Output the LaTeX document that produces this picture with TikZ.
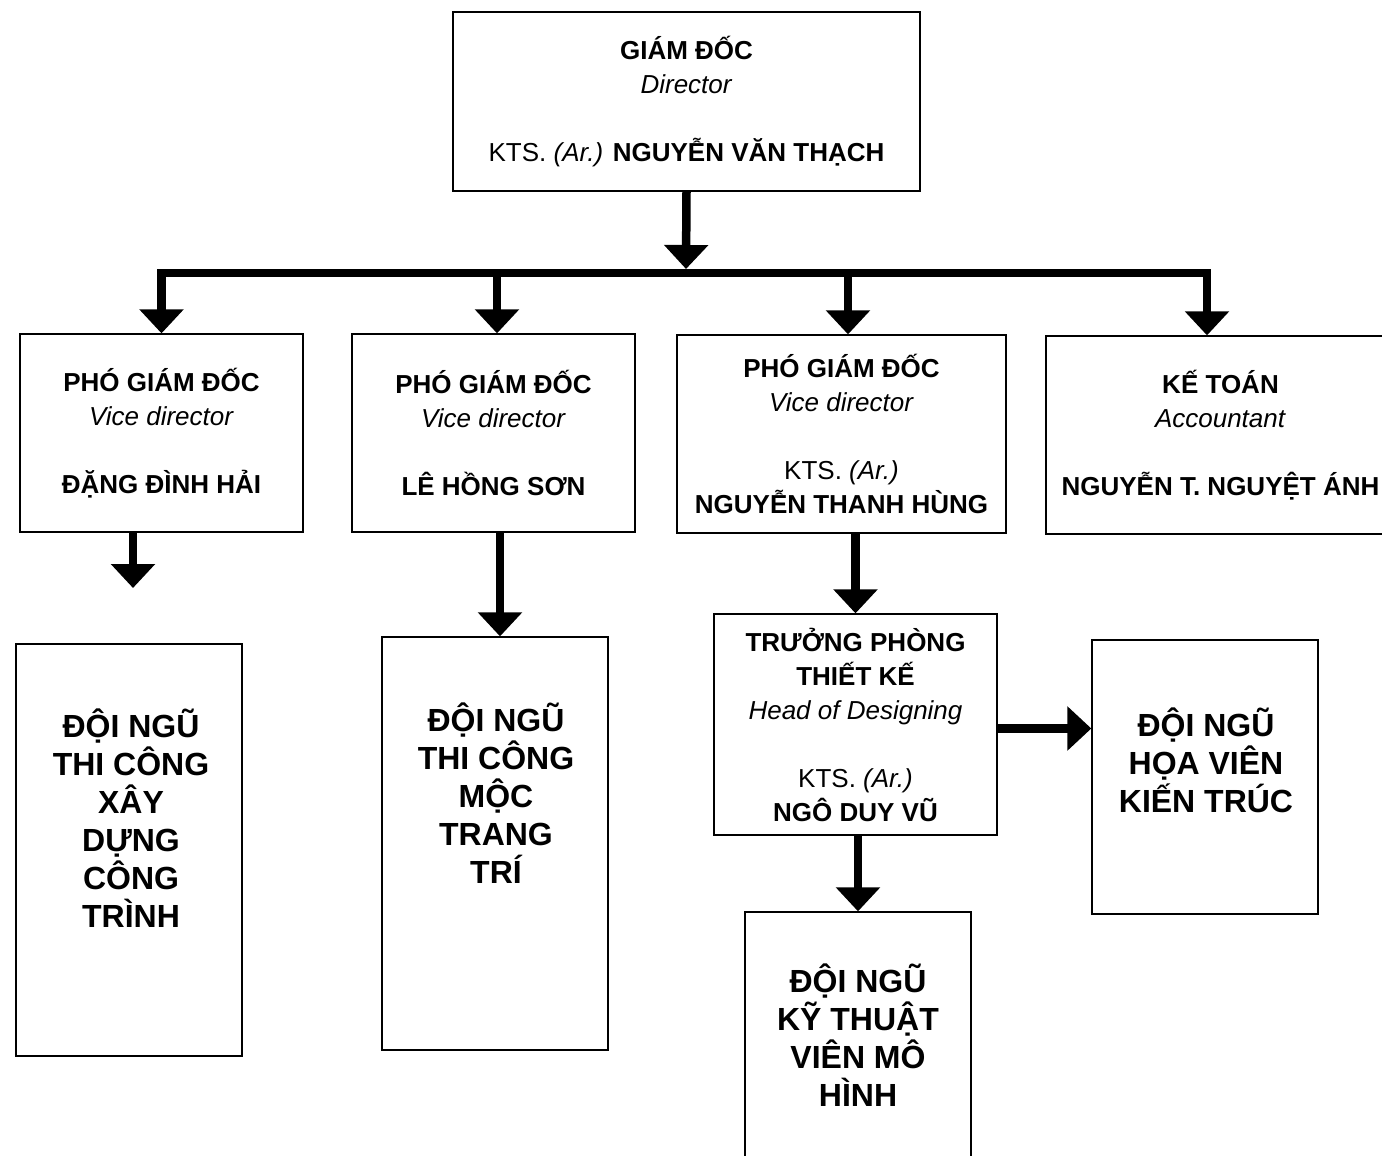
\documentclass[tikz,border=0pt]{standalone}
\usepackage{fontspec}
\setmainfont{Liberation Sans}
\usetikzlibrary{arrows.meta}

\begin{document}
\begin{tikzpicture}[x=1pt, y=-1pt,
    box/.style={draw, line width=1.3pt, align=center, inner sep=0pt, font=\fontsize{26}{34}\selectfont},
    teamtxt/.style={align=center, inner sep=0pt, font=\bfseries\fontsize{32}{38}\selectfont},
    flow/.style={line width=8.5pt, -{Triangle[width=43pt,length=24pt]}},
    bar/.style={line width=8.5pt, line cap=rect}]
    \useasboundingbox (0,0) rectangle (1382,1156);
    % director
    \node[box, minimum width=467pt, minimum height=179pt] (dir) at (686.5,101.5)
        {\textbf{GIÁM ĐỐC}\\ \textit{Director}\\[34pt] KTS. \textit{(Ar.)} \textbf{NGUYỄN VĂN THẠCH}};
    \coordinate (bus) at (686,273);
    % second row
    \node[box, minimum width=283pt, minimum height=198pt] (vd1) at (161.5,433)
        {\textbf{PHÓ GIÁM ĐỐC}\\ \textit{Vice director}\\[34pt] \textbf{ĐẶNG ĐÌNH HẢI}};
    \node[box, minimum width=283pt, minimum height=198pt] (vd2) at (493.5,433)
        {\textbf{PHÓ GIÁM ĐỐC}\\ \textit{Vice director}\\[34pt] \textbf{LÊ HỒNG SƠN}};
    \node[box, minimum width=329pt, minimum height=198pt] (vd3) at (841.5,434)
        {\textbf{PHÓ GIÁM ĐỐC}\\ \textit{Vice director}\\[34pt] KTS. \textit{(Ar.)}\\ \textbf{NGUYỄN THANH HÙNG}};
    \node[box, minimum width=349pt, minimum height=198pt] (acc) at (1220.5,435)
        {\textbf{KẾ TOÁN}\\ \textit{Accountant}\\[34pt] \textbf{NGUYỄN T. NGUYỆT ÁNH}};
    \node[box, minimum width=283pt, minimum height=221pt] (head) at (855.5,724.5)
        {\textbf{TRƯỞNG PHÒNG}\\ \textbf{THIẾT KẾ}\\ \textit{Head of Designing}\\[34pt] KTS. \textit{(Ar.)}\\ \textbf{NGÔ DUY VŨ}};
    % teams
    \node[box, minimum width=226pt, minimum height=412pt] (t1) at (129,850) {};
    \node[box, minimum width=226pt, minimum height=413pt] (t2) at (495,843.5) {};
    \node[box, minimum width=226pt, minimum height=258pt] (t3) at (858,1041) {};
    \node[box, minimum width=226pt, minimum height=274pt] (t4) at (1205,777) {};
    \node[teamtxt] (t1txt) at (131,818) {ĐỘI NGŨ\\ THI CÔNG\\ XÂY\\ DỰNG\\ CÔNG\\ TRÌNH};
    \node[teamtxt] (t2txt) at (496,793) {ĐỘI NGŨ\\ THI CÔNG\\ MỘC\\ TRANG\\ TRÍ};
    \node[teamtxt] (t3txt) at (858,1035) {ĐỘI NGŨ\\ KỸ THUẬT\\ VIÊN MÔ\\ HÌNH};
    \node[teamtxt] (t4txt) at (1206,760) {ĐỘI NGŨ\\ HỌA VIÊN\\ KIẾN TRÚC};
    % connectors
    \draw[flow] (dir.south) -- ([yshift=4pt]bus);
    \draw[bar] (vd1.north |- bus) -- ([xshift=-13.5pt]acc.north |- bus);
    \draw[flow] (vd1.north |- bus) -- (vd1.north);
    \draw[flow] ([xshift=3.5pt]vd2.north |- bus) -- ([xshift=3.5pt]vd2.north);
    \draw[flow] ([xshift=6.5pt]vd3.north |- bus) -- ([xshift=6.5pt]vd3.north);
    \draw[flow] ([xshift=-13.5pt]acc.north |- bus) -- ([xshift=-13.5pt]acc.north);
    \coordinate (vd1tip) at (133,588);
    \draw[flow] (vd1tip |- vd1.south) -- (vd1tip);
    \draw[flow] ([xshift=5pt]t2.north |- vd2.south) -- ([xshift=5pt]t2.north);
    \draw[flow] (head.north |- vd3.south) -- (head.north);
    \draw[flow] (t3.north |- head.south) -- (t3.north);
    \draw[flow] ([yshift=-4pt]head.east) -- ([yshift=-4pt]head.east -| t4.west);
\end{tikzpicture}
\end{document}
